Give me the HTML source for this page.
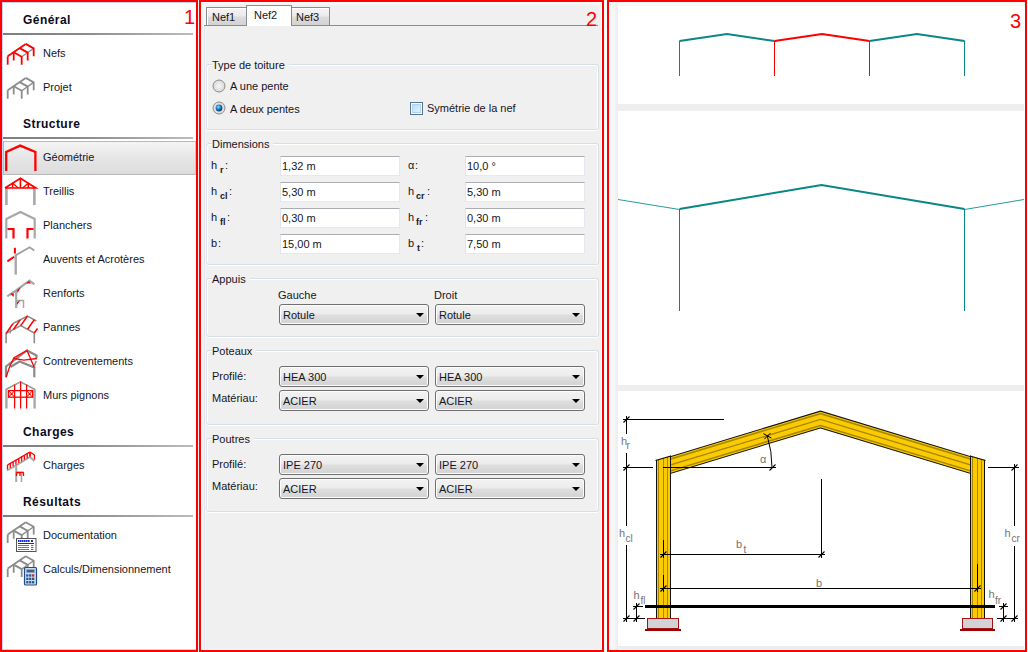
<!DOCTYPE html><html><head><meta charset="utf-8"><style>
*{box-sizing:border-box;margin:0;padding:0}
html,body{width:1028px;height:652px;overflow:hidden;background:#fff;font-family:"Liberation Sans",sans-serif}
.a{position:absolute}
.t{position:absolute;white-space:nowrap;font-size:11px;line-height:13px;color:#15151f}
.hd{position:absolute;white-space:nowrap;font-size:12px;line-height:14px;font-weight:bold;color:#0a0a1e;letter-spacing:0.45px}
.num{position:absolute;color:#f00;font-size:20px;line-height:20px}
.sep{position:absolute;left:3px;width:190px;height:2px;background:linear-gradient(to right,#7e7e7e,#8a8a8a 40%,#a8a8a8 75%,#bcbcbc)}
.grp{position:absolute;left:206px;width:393px;border:1px solid #d5dfe5;border-left-color:#e2e6ec;border-radius:3px;box-shadow:inset 1px 1px 0 #fff, inset -1px 0 0 #fff, 0 1px 0 #fff}
.gl{position:absolute;white-space:nowrap;font-size:11px;line-height:13px;color:#15151f;background:#f0f0f0;padding:0 4px 0 0}
.tb{position:absolute;width:120px;height:20px;background:#fff;border:1px solid #e3e9ef;border-top-color:#abadb3;border-left-color:#e2e3ea}
.tb span{position:absolute;left:1px;top:3px;font-size:11px;line-height:13px;color:#15151f;white-space:nowrap}
.cb{position:absolute;width:150px;height:21px;border:1px solid #707070;border-radius:3px;background:linear-gradient(#f3f3f3 0%,#ececec 45%,#dedede 55%,#d2d2d2 100%);box-shadow:inset 0 0 0 1px #fcfcfc}
.cb span{position:absolute;left:3px;top:4px;font-size:11px;line-height:13px;color:#15151f;white-space:nowrap}
.cb i{position:absolute;right:4px;top:8px;width:0;height:0;border-left:4px solid transparent;border-right:4px solid transparent;border-top:4px solid #000}
.sb{position:absolute;white-space:nowrap;font-size:9px;line-height:10px;font-weight:bold;color:#15151f}
</style></head><body>
<div class="a" style="left:0;top:0;width:198px;height:652px;border:2px solid #f00;background:#fff"></div>
<div class="a" style="left:2px;top:2px;width:194px;height:1px;background:#c4d2f4"></div>
<div class="a" style="left:2px;top:2px;width:1px;height:648px;background:#c4d2f4"></div>
<div class="a" style="left:2px;top:649px;width:194px;height:1px;background:#c4d2f4"></div>
<div class="num" style="left:184px;top:7px">1</div>
<div class="a" style="left:198px;top:0;width:1px;height:652px;background:#f4f4f4"></div>
<div class="hd" style="left:23px;top:13px">Général</div>
<div class="sep" style="top:33px"></div>
<div class="hd" style="left:23px;top:117px">Structure</div>
<div class="sep" style="top:137px"></div>
<div class="hd" style="left:23px;top:425px">Charges</div>
<div class="sep" style="top:445px"></div>
<div class="hd" style="left:23px;top:495px">Résultats</div>
<div class="sep" style="top:515px"></div>
<div class="a" style="left:3px;top:141px;width:193px;height:34px;border:1px solid #b9b9b9;border-right-color:#c8c8c8;background:linear-gradient(#f4f4f4,#e6e6e6 50%,#dcdcdc)"></div>
<div class="t" style="left:43px;top:47px">Nefs</div>
<div class="t" style="left:43px;top:81px">Projet</div>
<div class="t" style="left:43px;top:151px">Géométrie</div>
<div class="t" style="left:43px;top:185px">Treillis</div>
<div class="t" style="left:43px;top:219px">Planchers</div>
<div class="t" style="left:43px;top:253px">Auvents et Acrotères</div>
<div class="t" style="left:43px;top:287px">Renforts</div>
<div class="t" style="left:43px;top:321px">Pannes</div>
<div class="t" style="left:43px;top:355px">Contreventements</div>
<div class="t" style="left:43px;top:389px">Murs pignons</div>
<div class="t" style="left:43px;top:459px">Charges</div>
<div class="t" style="left:43px;top:529px">Documentation</div>
<div class="t" style="left:43px;top:563px">Calculs/Dimensionnement</div>
<div class="a" style="left:199px;top:0;width:405px;height:652px;border:2px solid #f00;background:#f0f0f0"></div>
<div class="a" style="left:201px;top:2px;width:401px;height:1px;background:#fff"></div>
<div class="a" style="left:201px;top:2px;width:1px;height:648px;background:#fff"></div>
<div class="a" style="left:201px;top:649px;width:401px;height:1px;background:#fff"></div>
<div class="a" style="left:202px;top:3px;width:4px;height:646px;background:#f6f6f6"></div>
<div class="a" style="left:601px;top:2px;width:1px;height:648px;background:#fcfcfc"></div>
<div class="a" style="left:202px;top:3px;width:400px;height:2px;background:#f5f5f5"></div>
<div class="a" style="left:604px;top:0;width:3px;height:652px;background:#fbfbfb"></div>
<div class="a" style="left:204px;top:26px;width:1px;height:623px;background:#e0e2ec"></div>
<div class="a" style="left:204px;top:25px;width:394px;height:1px;background:#898c95"></div>
<div class="a" style="left:206px;top:7px;width:41px;height:18px;border:1px solid #898c95;border-bottom:none;background:linear-gradient(#f5f5f5,#ebebeb 45%,#dcdcdc 55%,#d2d2d2);box-shadow:inset 1px 1px 0 #fff"></div>
<div class="a" style="left:290px;top:7px;width:40px;height:18px;border:1px solid #898c95;border-bottom:none;background:linear-gradient(#f5f5f5,#ebebeb 45%,#dcdcdc 55%,#d2d2d2);box-shadow:inset 1px 1px 0 #fff"></div>
<div class="a" style="left:246px;top:5px;width:46px;height:21px;border:1px solid #898c95;border-bottom:none;background:#fff"></div>
<div class="t" style="left:212px;top:11px">Nef1</div>
<div class="t" style="left:254px;top:9px">Nef2</div>
<div class="t" style="left:296px;top:11px">Nef3</div>
<div class="num" style="left:586px;top:9px">2</div>
<div class="grp" style="top:64px;height:66px"></div>
<div class="gl" style="left:212px;top:59px">Type de toiture</div>
<div class="grp" style="top:143px;height:122px"></div>
<div class="gl" style="left:212px;top:138px">Dimensions</div>
<div class="grp" style="top:278px;height:59px"></div>
<div class="gl" style="left:212px;top:273px">Appuis</div>
<div class="grp" style="top:350px;height:75px"></div>
<div class="gl" style="left:212px;top:345px">Poteaux</div>
<div class="grp" style="top:438px;height:74px"></div>
<div class="gl" style="left:212px;top:433px">Poutres</div>
<svg class="a" style="left:212px;top:79px" width="14" height="14" viewBox="0 0 14 14"><defs><radialGradient id="rg86" cx="50%" cy="50%" r="50%"><stop offset="0" stop-color="#f6f6f6"/><stop offset="1" stop-color="#d8d8d8"/></radialGradient><radialGradient id="rb86" cx="40%" cy="35%" r="60%"><stop offset="0" stop-color="#8fd4fb"/><stop offset="0.5" stop-color="#1c8ed3"/><stop offset="1" stop-color="#0b3e6c"/></radialGradient></defs><circle cx="7" cy="7" r="6" fill="url(#rg86)" stroke="#8c8c8c" stroke-width="1"/></svg>
<svg class="a" style="left:212px;top:101px" width="14" height="14" viewBox="0 0 14 14"><defs><radialGradient id="rg108" cx="50%" cy="50%" r="50%"><stop offset="0" stop-color="#f6f6f6"/><stop offset="1" stop-color="#d8d8d8"/></radialGradient><radialGradient id="rb108" cx="40%" cy="35%" r="60%"><stop offset="0" stop-color="#8fd4fb"/><stop offset="0.5" stop-color="#1c8ed3"/><stop offset="1" stop-color="#0b3e6c"/></radialGradient></defs><circle cx="7" cy="7" r="6" fill="url(#rg108)" stroke="#8c8c8c" stroke-width="1"/><circle cx="7" cy="7" r="3.4" fill="url(#rb108)"/></svg>
<div class="t" style="left:230px;top:80px">A une pente</div>
<div class="t" style="left:230px;top:103px">A deux pentes</div>
<div class="a" style="left:410px;top:102px;width:13px;height:13px;border:1px solid #5a7590;background:#f4f9fe"></div>
<div class="a" style="left:412px;top:104px;width:9px;height:9px;border:1px solid #b0d4f4;background:linear-gradient(135deg,#bcdcf8,#e4f2fd)"></div>
<div class="t" style="left:427px;top:102px">Symétrie de la nef</div>
<div class="tb" style="left:280px;top:156px"><span>1,32 m</span></div>
<div class="tb" style="left:465px;top:156px"><span>10,0 °</span></div>
<div class="tb" style="left:280px;top:182px"><span>5,30 m</span></div>
<div class="tb" style="left:465px;top:182px"><span>5,30 m</span></div>
<div class="tb" style="left:280px;top:208px"><span>0,30 m</span></div>
<div class="tb" style="left:465px;top:208px"><span>0,30 m</span></div>
<div class="tb" style="left:280px;top:234px"><span>15,00 m</span></div>
<div class="tb" style="left:465px;top:234px"><span>7,50 m</span></div>
<div class="t" style="left:211px;top:159px">h</div><div class="sb" style="left:220px;top:165px">r</div><div class="t" style="left:225px;top:159px">:</div>
<div class="t" style="left:211px;top:185px">h</div><div class="sb" style="left:220px;top:191px">cl</div><div class="t" style="left:229px;top:185px">:</div>
<div class="t" style="left:211px;top:211px">h</div><div class="sb" style="left:220px;top:217px">fl</div><div class="t" style="left:227px;top:211px">:</div>
<div class="t" style="left:211px;top:237px">b</div><div class="t" style="left:218px;top:237px">:</div>
<div class="t" style="left:408px;top:159px">α</div><div class="t" style="left:415px;top:159px">:</div>
<div class="t" style="left:408px;top:185px">h</div><div class="sb" style="left:416px;top:191px">cr</div><div class="t" style="left:427px;top:185px">:</div>
<div class="t" style="left:408px;top:211px">h</div><div class="sb" style="left:416px;top:217px">fr</div><div class="t" style="left:425px;top:211px">:</div>
<div class="t" style="left:408px;top:237px">b</div><div class="sb" style="left:417px;top:243px">t</div><div class="t" style="left:421px;top:237px">:</div>
<div class="t" style="left:278px;top:289px">Gauche</div>
<div class="t" style="left:434px;top:289px">Droit</div>
<div class="cb" style="left:279px;top:304px"><span>Rotule</span><i></i></div>
<div class="cb" style="left:435px;top:304px"><span>Rotule</span><i></i></div>
<div class="t" style="left:212px;top:370px">Profilé:</div>
<div class="t" style="left:212px;top:392px">Matériau:</div>
<div class="cb" style="left:279px;top:366px"><span>HEA 300</span><i></i></div>
<div class="cb" style="left:435px;top:366px"><span>HEA 300</span><i></i></div>
<div class="cb" style="left:279px;top:390px"><span>ACIER</span><i></i></div>
<div class="cb" style="left:435px;top:390px"><span>ACIER</span><i></i></div>
<div class="t" style="left:212px;top:458px">Profilé:</div>
<div class="t" style="left:212px;top:480px">Matériau:</div>
<div class="cb" style="left:279px;top:454px"><span>IPE 270</span><i></i></div>
<div class="cb" style="left:435px;top:454px"><span>IPE 270</span><i></i></div>
<div class="cb" style="left:279px;top:478px"><span>ACIER</span><i></i></div>
<div class="cb" style="left:435px;top:478px"><span>ACIER</span><i></i></div>
<div class="a" style="left:607px;top:0;width:420px;height:652px;border:2px solid #f00;background:#fff"></div>
<div class="a" style="left:609px;top:2px;width:416px;height:4px;background:linear-gradient(#f6f8fc,#f7f8f0)"></div>
<div class="a" style="left:609px;top:2px;width:9px;height:648px;background:linear-gradient(to right,#fafafa,#f6f6f6 60%,#ececec)"></div>
<div class="a" style="left:616px;top:104px;width:408px;height:7px;background:#eeeeee"></div>
<div class="a" style="left:616px;top:385px;width:408px;height:6px;background:#eeeeee"></div>
<div class="a" style="left:616px;top:646px;width:408px;height:3px;background:#ededed"></div>
<div class="num" style="left:1010px;top:11px">3</div>
<svg class="a" style="left:0;top:0" width="1028" height="652" viewBox="0 0 1028 652">
<g fill="none" stroke-linejoin="miter">
<line x1="679.5" y1="41" x2="679.5" y2="76" stroke="#0b8686" stroke-width="1"/>
<line x1="774.5" y1="41" x2="774.5" y2="76" stroke="#ff0000" stroke-width="1"/>
<line x1="869.5" y1="41" x2="869.5" y2="76" stroke="#ff0000" stroke-width="1"/>
<line x1="964.5" y1="41" x2="964.5" y2="76" stroke="#0b8686" stroke-width="1"/>
<polyline points="679.5,41 727.0,34 774.5,41" stroke="#0b8686" stroke-width="2"/>
<polyline points="774.5,41 822.0,34 869.5,41" stroke="#ff0000" stroke-width="2"/>
<polyline points="869.5,41 917.0,34 964.5,41" stroke="#0b8686" stroke-width="2"/>
</g>
<g fill="none">
<polyline points="618,199.5 679.5,209.5" stroke="#2a9a9a" stroke-width="1"/>
<polyline points="964.5,209.5 1024,199.5" stroke="#2a9a9a" stroke-width="1"/>
<line x1="679.5" y1="209" x2="679.5" y2="311" stroke="#0b8686" stroke-width="1"/>
<line x1="964.5" y1="209" x2="964.5" y2="311" stroke="#0b8686" stroke-width="1"/>
<polyline points="679.5,209 821.5,185 964.5,209" stroke="#0b8686" stroke-width="2"/>
</g>
<defs><clipPath id="roofclip"><rect x="671" y="380" width="299" height="120"/></clipPath><clipPath id="lcol"><polygon points="656,460 671,455.5 671,640 656,640"/></clipPath><clipPath id="rcol"><polygon points="970,455.5 985,460 985,640 970,640"/></clipPath></defs>
<g clip-path="url(#roofclip)" fill="none" stroke-linejoin="miter" stroke-miterlimit="10">
<polyline points="600,486.3 820.5,419.5 1041,486.3" stroke="#111" stroke-width="17"/>
<polyline points="600,486.3 820.5,419.5 1041,486.3" stroke="#fbcb00" stroke-width="15"/>
<polyline points="600,486.3 820.5,419.5 1041,486.3" stroke="#a88800" stroke-width="13"/>
<polyline points="600,486.3 820.5,419.5 1041,486.3" stroke="#fbcb00" stroke-width="9.8"/>
<polyline points="600,486.3 820.5,419.5 1041,486.3" stroke="#a88800" stroke-width="1.3"/>
</g>
<g clip-path="url(#lcol)" shape-rendering="crispEdges"><rect x="656" y="440" width="1" height="178" fill="#111"/><rect x="657" y="440" width="1" height="178" fill="#fbcb00"/><rect x="658" y="440" width="1" height="178" fill="#a88800"/><rect x="659" y="440" width="1" height="178" fill="#fbcb00"/><rect x="660" y="440" width="1" height="178" fill="#fbcb00"/><rect x="661" y="440" width="1" height="178" fill="#fbcb00"/><rect x="662" y="440" width="1" height="178" fill="#fbcb00"/><rect x="663" y="440" width="1" height="178" fill="#a88800"/><rect x="664" y="440" width="1" height="178" fill="#fbcb00"/><rect x="665" y="440" width="1" height="178" fill="#fbcb00"/><rect x="666" y="440" width="1" height="178" fill="#fbcb00"/><rect x="667" y="440" width="1" height="178" fill="#a88800"/><rect x="668" y="440" width="1" height="178" fill="#fbcb00"/><rect x="669" y="440" width="1" height="178" fill="#fbcb00"/><rect x="670" y="440" width="1" height="178" fill="#111"/></g>
<g clip-path="url(#rcol)" shape-rendering="crispEdges"><rect x="970" y="440" width="1" height="178" fill="#111"/><rect x="971" y="440" width="1" height="178" fill="#fbcb00"/><rect x="972" y="440" width="1" height="178" fill="#a88800"/><rect x="973" y="440" width="1" height="178" fill="#fbcb00"/><rect x="974" y="440" width="1" height="178" fill="#fbcb00"/><rect x="975" y="440" width="1" height="178" fill="#fbcb00"/><rect x="976" y="440" width="1" height="178" fill="#fbcb00"/><rect x="977" y="440" width="1" height="178" fill="#a88800"/><rect x="978" y="440" width="1" height="178" fill="#fbcb00"/><rect x="979" y="440" width="1" height="178" fill="#fbcb00"/><rect x="980" y="440" width="1" height="178" fill="#fbcb00"/><rect x="981" y="440" width="1" height="178" fill="#a88800"/><rect x="982" y="440" width="1" height="178" fill="#fbcb00"/><rect x="983" y="440" width="1" height="178" fill="#fbcb00"/><rect x="984" y="440" width="1" height="178" fill="#111"/></g>
<line x1="655.5" y1="460.5" x2="671" y2="456" stroke="#111" stroke-width="1.2"/>
<line x1="970" y1="456" x2="985.5" y2="460.5" stroke="#111" stroke-width="1.2"/>
<rect x="645" y="605" width="350" height="3" fill="#000"/>
<rect x="647.5" y="618.5" width="31" height="10" fill="#d3d3d5" stroke="#a01515" stroke-width="1"/>
<rect x="645" y="629" width="36" height="2" fill="#a00000"/>
<rect x="962.5" y="618.5" width="30" height="10" fill="#d3d3d5" stroke="#a01515" stroke-width="1"/>
<rect x="960" y="629" width="35" height="2" fill="#a00000"/>
<path d="M623 419.5H724 M626.5 416V434 M626.5 453V526 M626.5 545V622 M623 467.5H653 M663 467.5H776 M623 618.5H645 M636.5 603V622 M633 606.5H643 M821.5 479V558 M660 554.5H825 M663.5 540V558 M660 588.5H981 M663.5 575V592 M977.5 564V592 M988 467.5H1019 M1014.5 464V526 M1014.5 546V622 M997 618.5H1018 M1003.5 603V622 M999 606.5H1008" stroke="#000" stroke-width="1" fill="none" shape-rendering="crispEdges"/>
<path d="M623.5 422.5L629.5 416.5 M623.5 470.5L629.5 464.5 M769.5 470.5L775.5 464.5 M623.5 621.5L629.5 615.5 M633.5 621.5L639.5 615.5 M633.5 609.5L639.5 603.5 M660.5 557.5L666.5 551.5 M818.5 557.5L824.5 551.5 M660.5 591.5L666.5 585.5 M974.5 591.5L980.5 585.5 M1011.5 470.5L1017.5 464.5 M1011.5 621.5L1017.5 615.5 M1000.5 621.5L1006.5 615.5 M1000.5 609.5L1006.5 603.5" stroke="#000" stroke-width="1.1" fill="none"/>
<path d="M772.0 467.5 A108.5 108.5 0 0 0 767.37 436.14" stroke="#000" stroke-width="1" fill="none"/>
<path d="M764.4 439.1L770.4 433.1 M763.4 433.6L771.4 438.1" stroke="#000" stroke-width="1" fill="none"/>
<text x="621" y="445" font-family="Liberation Sans" font-size="11" fill="#747474">h</text><text x="626.5" y="449" font-family="Liberation Sans" font-size="10" fill="#747474">r</text>
<text x="760" y="463" font-family="Liberation Sans" font-size="11" fill="#747474">α</text>
<text x="619" y="537" font-family="Liberation Sans" font-size="11" fill="#747474">h</text><text x="625.5" y="542" font-family="Liberation Sans" font-size="10" fill="#747474">cl</text>
<text x="736" y="548" font-family="Liberation Sans" font-size="11" fill="#747474">b</text><text x="743.5" y="553" font-family="Liberation Sans" font-size="10" fill="#747474">t</text>
<text x="816" y="587" font-family="Liberation Sans" font-size="11" fill="#747474">b</text>
<text x="633.5" y="598.5" font-family="Liberation Sans" font-size="11" fill="#747474">h</text><text x="640.5" y="603.5" font-family="Liberation Sans" font-size="10" fill="#747474">fl</text>
<text x="1004.5" y="536.5" font-family="Liberation Sans" font-size="11" fill="#747474">h</text><text x="1011.5" y="541.5" font-family="Liberation Sans" font-size="10" fill="#747474">cr</text>
<text x="988.5" y="597.5" font-family="Liberation Sans" font-size="11" fill="#747474">h</text><text x="995" y="603.5" font-family="Liberation Sans" font-size="10" fill="#747474">fr</text>
<polyline points="21.70,56.80 33.70,48.40" fill="none" stroke="#8a8fa8" stroke-width="1.3" stroke-linejoin="miter" /><polyline points="25.70,43.90 33.70,48.40 33.70,56.30" fill="none" stroke="#ff0000" stroke-width="1.8" stroke-linejoin="miter" /><polyline points="19.70,48.10 27.70,52.60 27.70,60.50" fill="none" stroke="#ff0000" stroke-width="1.8" stroke-linejoin="miter" /><polyline points="13.70,60.50 13.70,52.10" fill="none" stroke="#ff0000" stroke-width="1.8" stroke-linejoin="miter" /><polyline points="13.70,52.30 21.70,56.80 21.70,64.70" fill="none" stroke="#ff0000" stroke-width="1.8" stroke-linejoin="miter" /><polyline points="7.70,64.70 7.70,56.30" fill="none" stroke="#ff0000" stroke-width="1.8" stroke-linejoin="miter" /><polyline points="7.70,56.30 25.70,43.90" fill="none" stroke="#ff0000" stroke-width="1.8" stroke-linejoin="miter" />
<polyline points="21.70,90.80 33.70,82.40" fill="none" stroke="#8c8c8c" stroke-width="1.3" stroke-linejoin="miter" /><polyline points="25.70,77.90 33.70,82.40 33.70,90.30" fill="none" stroke="#8c8c8c" stroke-width="1.8" stroke-linejoin="miter" /><polyline points="19.70,82.10 27.70,86.60 27.70,94.50" fill="none" stroke="#8c8c8c" stroke-width="1.8" stroke-linejoin="miter" /><polyline points="13.70,94.50 13.70,86.10" fill="none" stroke="#8c8c8c" stroke-width="1.8" stroke-linejoin="miter" /><polyline points="13.70,86.30 21.70,90.80 21.70,98.70" fill="none" stroke="#8c8c8c" stroke-width="1.8" stroke-linejoin="miter" /><polyline points="7.70,98.70 7.70,90.30" fill="none" stroke="#8c8c8c" stroke-width="1.8" stroke-linejoin="miter" /><polyline points="7.70,90.30 25.70,77.90" fill="none" stroke="#8c8c8c" stroke-width="1.8" stroke-linejoin="miter" />
<polyline points="6.20,171.00 6.20,152.00 20.20,145.60 35.40,152.00 35.40,171.00" fill="none" stroke="#ff0000" stroke-width="2.3" stroke-linejoin="miter" />
<line x1="6.4" y1="188" x2="6.4" y2="205" stroke="#a8a8a8" stroke-width="2.6"/>
<line x1="34.4" y1="188" x2="34.4" y2="205" stroke="#a8a8a8" stroke-width="2.6"/>
<polyline points="5.00,188.00 20.40,178.20 35.80,188.00 5.00,188.00" fill="none" stroke="#ff0000" stroke-width="1.7" stroke-linejoin="miter" />
<line x1="12.6" y1="188" x2="12.6" y2="183.3" stroke="#ff0000" stroke-width="1.5"/>
<line x1="20.4" y1="188" x2="20.4" y2="178.5" stroke="#ff0000" stroke-width="1.6"/>
<line x1="28.3" y1="188" x2="28.3" y2="183.3" stroke="#ff0000" stroke-width="1.5"/>
<line x1="12.6" y1="183.3" x2="18.2" y2="188" stroke="#ff0000" stroke-width="1.4"/>
<line x1="28.3" y1="183.3" x2="22.6" y2="188" stroke="#ff0000" stroke-width="1.4"/>
<polyline points="6.30,238.60 6.30,219.00 20.50,212.00 34.70,219.00 34.70,238.60" fill="none" stroke="#a8a8a8" stroke-width="2.2" stroke-linejoin="miter" />
<polyline points="7.50,229.00 13.50,229.00 13.50,238.60" fill="none" stroke="#ff0000" stroke-width="2.2" stroke-linejoin="miter" />
<polyline points="33.50,229.00 27.50,229.00 27.50,238.60" fill="none" stroke="#ff0000" stroke-width="2.2" stroke-linejoin="miter" />
<line x1="15.7" y1="255" x2="15.7" y2="274.6" stroke="#a8a8a8" stroke-width="2.4"/>
<polyline points="15.20,255.60 29.60,247.20 34.30,250.60" fill="none" stroke="#a0a0a0" stroke-width="1.8" stroke-linejoin="miter" />
<line x1="14.9" y1="247.8" x2="14.9" y2="253.6" stroke="#ff0000" stroke-width="2.0"/>
<line x1="7.4" y1="261.4" x2="14.1" y2="256.7" stroke="#ff0000" stroke-width="2.0"/>
<polyline points="7.20,296.40 16.00,290.50 29.50,280.60 34.40,284.40" fill="none" stroke="#a8a8a8" stroke-width="2.2" stroke-linejoin="miter" />
<line x1="16.2" y1="290" x2="16.2" y2="308" stroke="#a8a8a8" stroke-width="2.2"/>
<polyline points="16.00,300.50 23.50,300.50 23.50,308.00" fill="none" stroke="#a8a8a8" stroke-width="1.5" stroke-linejoin="miter" />
<polygon points="10,293.5 14,293.5 13.5,297" fill="#ff0000"/>
<polygon points="17,290 21,287 17.5,293" fill="#ff0000"/>
<polygon points="26,283.5 31,283.5 29,281" fill="#ff0000"/>
<polygon points="17,302 20.5,300 17,305" fill="#ff0000"/>
<polyline points="6.10,343.30 6.10,333.40 20.70,325.60 34.30,333.00 34.30,343.30" fill="none" stroke="#8c8c8c" stroke-width="1.6" stroke-linejoin="miter" />
<polyline points="12.90,323.50 27.50,316.20 36.40,321.00" fill="none" stroke="#8c8c8c" stroke-width="1.5" stroke-linejoin="miter" />
<line x1="10.3" y1="328.3" x2="10.3" y2="333.5" stroke="#8c8c8c" stroke-width="1.2"/>
<line x1="6.1" y1="333.4" x2="12.899999999999999" y2="323.79999999999995" stroke="#ff0000" stroke-width="1.5"/>
<line x1="13.4" y1="329.5" x2="20.2" y2="319.9" stroke="#ff0000" stroke-width="1.5"/>
<line x1="20.7" y1="325.6" x2="27.5" y2="316.0" stroke="#ff0000" stroke-width="1.5"/>
<line x1="27.5" y1="329.3" x2="34.3" y2="319.7" stroke="#ff0000" stroke-width="1.5"/>
<line x1="34.3" y1="333" x2="37.5" y2="328.4823529411765" stroke="#ff0000" stroke-width="1.5"/>
<polyline points="6.00,377.30 6.00,366.50 27.00,350.50 36.50,355.50 36.50,358.00" fill="none" stroke="#8a8a8a" stroke-width="2.2" stroke-linejoin="miter" />
<polyline points="10.50,367.00 19.50,361.50 34.30,367.50 34.30,377.30" fill="none" stroke="#8a8a8a" stroke-width="2.2" stroke-linejoin="miter" />
<polyline points="36.20,361.00 34.30,366.00" fill="none" stroke="#8a8a8a" stroke-width="1.6" stroke-linejoin="miter" />
<polyline points="6.10,377.30 9.80,366.30 14.00,357.70 27.00,350.40 34.30,367.40" fill="none" stroke="#ff0000" stroke-width="1.3" stroke-linejoin="miter" />
<polyline points="14.00,358.50 23.90,360.10 36.90,358.50" fill="none" stroke="#ff0000" stroke-width="1.3" stroke-linejoin="miter" />
<polyline points="5.80,389.50 20.50,381.80 35.00,389.50" fill="none" stroke="#9a9a9a" stroke-width="1.5" stroke-linejoin="miter" />
<line x1="6.4" y1="389" x2="6.4" y2="408.5" stroke="#a8a8a8" stroke-width="2.4"/>
<line x1="34.6" y1="389" x2="34.6" y2="408.5" stroke="#a8a8a8" stroke-width="2.4"/>
<line x1="14.6" y1="384.5" x2="14.6" y2="408.5" stroke="#ff0000" stroke-width="1.3"/>
<line x1="20.6" y1="381.5" x2="20.6" y2="408.5" stroke="#ff0000" stroke-width="1.3"/>
<line x1="26.6" y1="384.5" x2="26.6" y2="408.5" stroke="#ff0000" stroke-width="1.3"/>
<rect x="8.6" y="390.6" width="24" height="6.6" fill="none" stroke="#ff0000" stroke-width="1.3"/>
<polyline points="8.60,390.60 14.60,397.20" fill="none" stroke="#ff0000" stroke-width="1.0" stroke-linejoin="miter" />
<polyline points="14.60,390.60 8.60,397.20" fill="none" stroke="#ff0000" stroke-width="1.0" stroke-linejoin="miter" />
<circle cx="11.6" cy="393.9" r="1" fill="#ff0000"/>
<polyline points="26.60,390.60 32.60,397.20" fill="none" stroke="#ff0000" stroke-width="1.0" stroke-linejoin="miter" />
<polyline points="32.60,390.60 26.60,397.20" fill="none" stroke="#ff0000" stroke-width="1.0" stroke-linejoin="miter" />
<circle cx="29.6" cy="393.9" r="1" fill="#ff0000"/>
<polyline points="7.00,470.50 16.00,465.50 30.00,457.00 34.50,461.00" fill="none" stroke="#a8a8a8" stroke-width="2" stroke-linejoin="miter" />
<line x1="16.2" y1="465.5" x2="16.2" y2="482" stroke="#a8a8a8" stroke-width="2"/>
<line x1="21.5" y1="474" x2="21.5" y2="482" stroke="#a8a8a8" stroke-width="1.6"/>
<polyline points="7.50,465.00 10.31,463.38 13.12,461.75 15.94,460.12 18.75,458.50 21.56,456.88 24.38,455.25 27.19,453.62 30.00,452.00" fill="none" stroke="#ff0000" stroke-width="1.4" stroke-linejoin="miter" /><line x1="7.5" y1="465.0" x2="7.5" y2="469.5" stroke="#ff0000" stroke-width="1.3"/><line x1="10.3125" y1="463.375" x2="10.3125" y2="467.875" stroke="#ff0000" stroke-width="1.3"/><line x1="13.125" y1="461.75" x2="13.125" y2="466.25" stroke="#ff0000" stroke-width="1.3"/><line x1="15.9375" y1="460.125" x2="15.9375" y2="464.625" stroke="#ff0000" stroke-width="1.3"/><line x1="18.75" y1="458.5" x2="18.75" y2="463.0" stroke="#ff0000" stroke-width="1.3"/><line x1="21.5625" y1="456.875" x2="21.5625" y2="461.375" stroke="#ff0000" stroke-width="1.3"/><line x1="24.375" y1="455.25" x2="24.375" y2="459.75" stroke="#ff0000" stroke-width="1.3"/><line x1="27.1875" y1="453.625" x2="27.1875" y2="458.125" stroke="#ff0000" stroke-width="1.3"/><line x1="30.0" y1="452.0" x2="30.0" y2="456.5" stroke="#ff0000" stroke-width="1.3"/>
<polyline points="30.00,452.00 34.50,455.00" fill="none" stroke="#ff0000" stroke-width="1.4" stroke-linejoin="miter" /><line x1="30.0" y1="452.0" x2="30.0" y2="456.5" stroke="#ff0000" stroke-width="1.3"/><line x1="34.5" y1="455.0" x2="34.5" y2="459.5" stroke="#ff0000" stroke-width="1.3"/>
<polyline points="16.50,472.50 23.50,472.50" fill="none" stroke="#ff0000" stroke-width="1.4" stroke-linejoin="miter" />
<polyline points="16.50,472.50 20.00,472.50 23.50,472.50" fill="none" stroke="#ff0000" stroke-width="1.4" stroke-linejoin="miter" /><line x1="16.5" y1="472.5" x2="16.5" y2="476.0" stroke="#ff0000" stroke-width="1.3"/><line x1="20.0" y1="472.5" x2="20.0" y2="476.0" stroke="#ff0000" stroke-width="1.3"/><line x1="23.5" y1="472.5" x2="23.5" y2="476.0" stroke="#ff0000" stroke-width="1.3"/>
<polyline points="21.70,535.10 33.70,526.70" fill="none" stroke="#8c8c8c" stroke-width="1.3" stroke-linejoin="miter" /><polyline points="25.70,522.20 33.70,526.70 33.70,534.60" fill="none" stroke="#8c8c8c" stroke-width="1.8" stroke-linejoin="miter" /><polyline points="19.70,526.40 27.70,530.90 27.70,538.80" fill="none" stroke="#8c8c8c" stroke-width="1.8" stroke-linejoin="miter" /><polyline points="13.70,538.80 13.70,530.40" fill="none" stroke="#8c8c8c" stroke-width="1.8" stroke-linejoin="miter" /><polyline points="13.70,530.60 21.70,535.10 21.70,543.00" fill="none" stroke="#8c8c8c" stroke-width="1.8" stroke-linejoin="miter" /><polyline points="7.70,543.00 7.70,534.60" fill="none" stroke="#8c8c8c" stroke-width="1.8" stroke-linejoin="miter" /><polyline points="7.70,534.60 25.70,522.20" fill="none" stroke="#8c8c8c" stroke-width="1.8" stroke-linejoin="miter" />
<rect x="16.5" y="538.5" width="19.5" height="13" fill="#fff" stroke="#555" stroke-width="1"/>
<rect x="18" y="540" width="1.6" height="2" fill="#1a2fd0"/>
<rect x="20" y="540" width="1.6" height="2" fill="#1a2fd0"/>
<rect x="22" y="540" width="1.6" height="2" fill="#1a2fd0"/>
<rect x="24" y="540" width="1.6" height="2" fill="#1a2fd0"/>
<rect x="26" y="540" width="1.6" height="2" fill="#1a2fd0"/>
<rect x="28" y="540" width="1.6" height="2" fill="#1a2fd0"/>
<rect x="31" y="540" width="2" height="2" fill="#1a2fd0"/>
<line x1="18" y1="543.5" x2="34" y2="543.5" stroke="#333" stroke-width="1"/>
<line x1="18" y1="545.5" x2="29" y2="545.5" stroke="#666" stroke-width="0.9"/>
<line x1="31" y1="545.5" x2="33.5" y2="545.5" stroke="#2a9a2a" stroke-width="1.1"/>
<line x1="18" y1="547.5" x2="29" y2="547.5" stroke="#666" stroke-width="0.9"/>
<line x1="31" y1="547.5" x2="33.5" y2="547.5" stroke="#2a9a2a" stroke-width="1.1"/>
<line x1="18" y1="549.5" x2="29" y2="549.5" stroke="#666" stroke-width="0.9"/>
<line x1="31" y1="549.5" x2="33.5" y2="549.5" stroke="#2a9a2a" stroke-width="1.1"/>
<polyline points="21.70,569.10 33.70,560.70" fill="none" stroke="#8c8c8c" stroke-width="1.3" stroke-linejoin="miter" /><polyline points="25.70,556.20 33.70,560.70 33.70,568.60" fill="none" stroke="#8c8c8c" stroke-width="1.8" stroke-linejoin="miter" /><polyline points="19.70,560.40 27.70,564.90 27.70,572.80" fill="none" stroke="#8c8c8c" stroke-width="1.8" stroke-linejoin="miter" /><polyline points="13.70,572.80 13.70,564.40" fill="none" stroke="#8c8c8c" stroke-width="1.8" stroke-linejoin="miter" /><polyline points="13.70,564.60 21.70,569.10 21.70,577.00" fill="none" stroke="#8c8c8c" stroke-width="1.8" stroke-linejoin="miter" /><polyline points="7.70,577.00 7.70,568.60" fill="none" stroke="#8c8c8c" stroke-width="1.8" stroke-linejoin="miter" /><polyline points="7.70,568.60 25.70,556.20" fill="none" stroke="#8c8c8c" stroke-width="1.8" stroke-linejoin="miter" />
<rect x="24.5" y="567.5" width="12" height="17.5" rx="1" fill="#cfdaea" stroke="#1d4f86" stroke-width="1.2"/>
<rect x="26.5" y="569.5" width="8" height="3.2" fill="#3a5f8f" stroke="#9fb4d0" stroke-width="0.6"/>
<rect x="26.2" y="574.3" width="2.2" height="2.3" fill="#24568f"/>
<rect x="29.1" y="574.3" width="2.2" height="2.3" fill="#24568f"/>
<rect x="32.0" y="574.3" width="2.2" height="2.3" fill="#d02828"/>
<rect x="26.2" y="577.7" width="2.2" height="2.3" fill="#24568f"/>
<rect x="29.1" y="577.7" width="2.2" height="2.3" fill="#24568f"/>
<rect x="32.0" y="577.7" width="2.2" height="2.3" fill="#24568f"/>
<rect x="26.2" y="581.1" width="2.2" height="2.3" fill="#24568f"/>
<rect x="29.1" y="581.1" width="2.2" height="2.3" fill="#24568f"/>
<rect x="32.0" y="581.1" width="2.2" height="2.3" fill="#24568f"/>
</svg>
</body></html>
